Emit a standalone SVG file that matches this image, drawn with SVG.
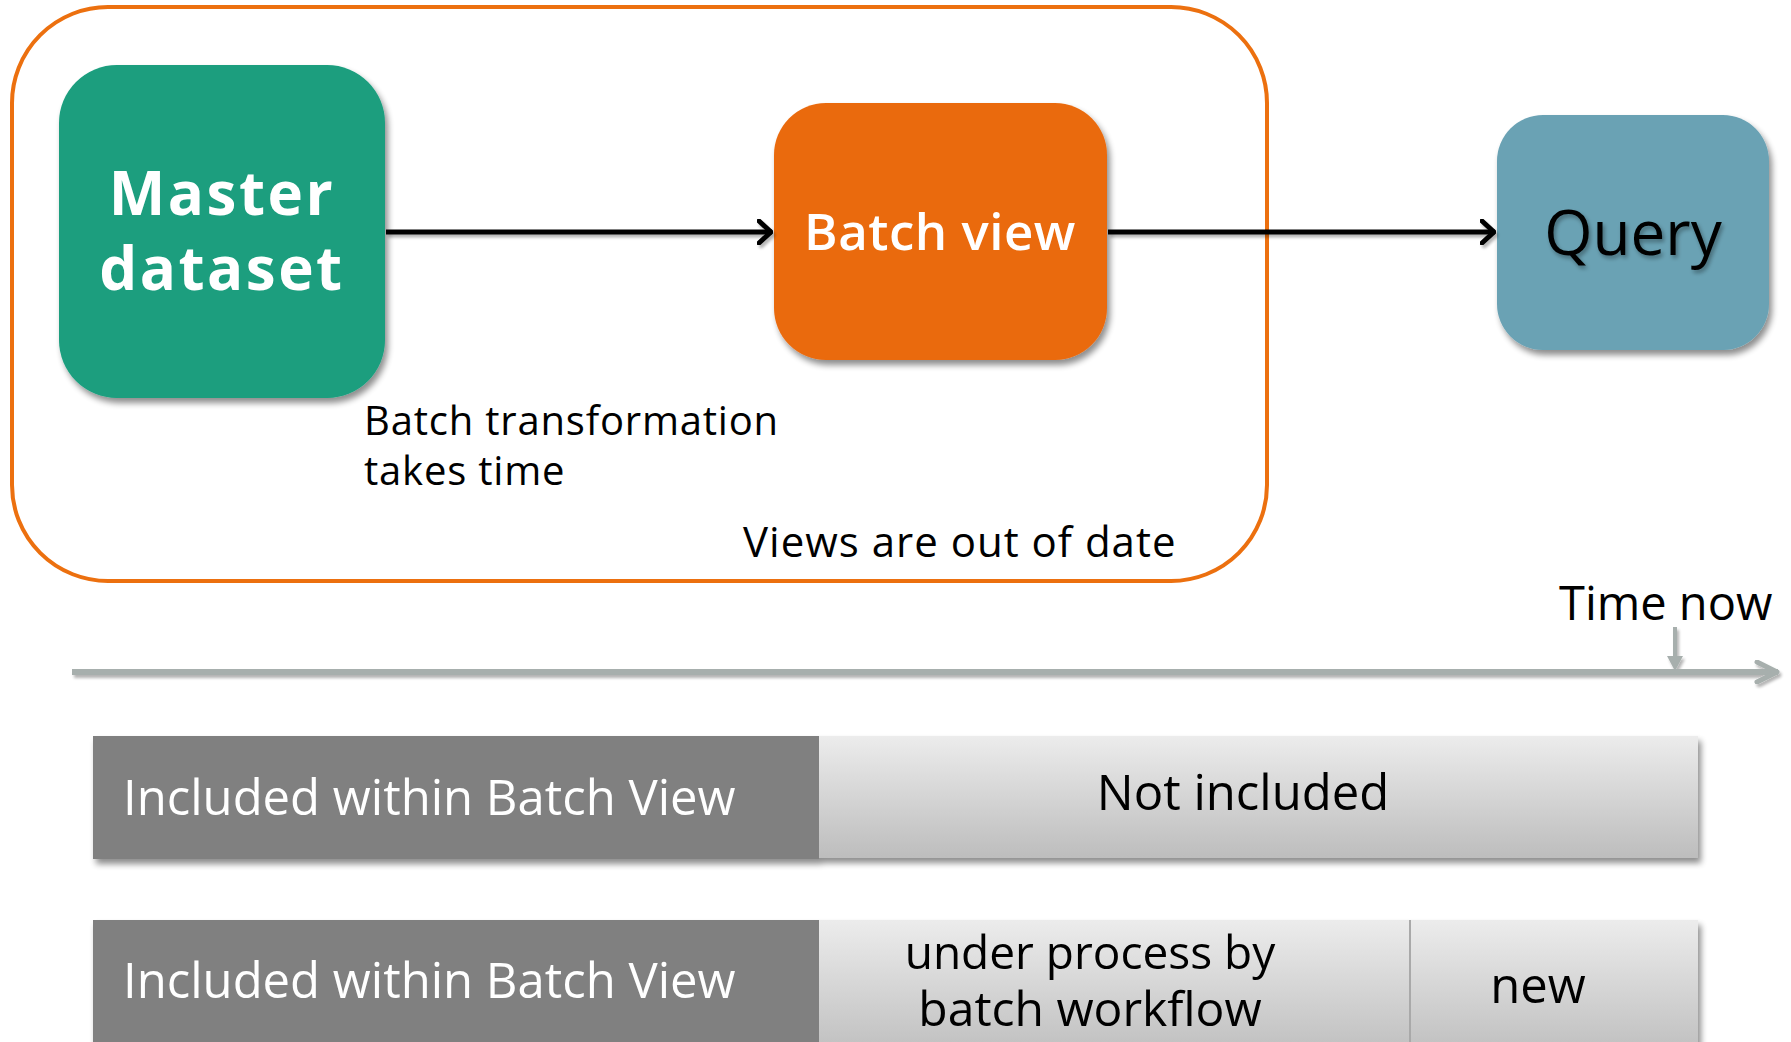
<svg xmlns="http://www.w3.org/2000/svg" width="1791" height="1042" viewBox="0 0 1791 1042">
  <defs>
    <filter id="shadow" x="-10%" y="-10%" width="130%" height="130%">
      <feGaussianBlur in="SourceAlpha" stdDeviation="3"/>
      <feOffset dx="3" dy="5" result="b"/>
      <feComponentTransfer><feFuncA type="linear" slope="0.45"/></feComponentTransfer>
      <feMerge><feMergeNode/><feMergeNode in="SourceGraphic"/></feMerge>
    </filter>
    <filter id="lineShadow" filterUnits="userSpaceOnUse" x="0" y="0" width="1791" height="1042">
      <feGaussianBlur in="SourceAlpha" stdDeviation="1.5"/>
      <feOffset dx="2" dy="3"/>
      <feComponentTransfer><feFuncA type="linear" slope="0.3"/></feComponentTransfer>
      <feMerge><feMergeNode/><feMergeNode in="SourceGraphic"/></feMerge>
    </filter>
    <filter id="textShadow" x="-10%" y="-20%" width="130%" height="150%">
      <feGaussianBlur in="SourceAlpha" stdDeviation="2"/>
      <feOffset dx="2" dy="3"/>
      <feComponentTransfer><feFuncA type="linear" slope="0.35"/></feComponentTransfer>
      <feMerge><feMergeNode/><feMergeNode in="SourceGraphic"/></feMerge>
    </filter>
    <linearGradient id="lightBar" x1="0" y1="0" x2="0" y2="1">
      <stop offset="0" stop-color="#ECECEC"/>
      <stop offset="1" stop-color="#BDBDBD"/>
    </linearGradient>
    <marker id="chevron" viewBox="0 0 16 26" refX="15" refY="13" markerWidth="16" markerHeight="26" markerUnits="userSpaceOnUse" orient="auto">
      <path d="M2 2 L14 13 L2 24" fill="none" stroke="#000" stroke-width="5" stroke-linecap="round" stroke-linejoin="round"/>
    </marker>
    <marker id="greyChevron" viewBox="0 0 26 24" refX="24" refY="12" markerWidth="26" markerHeight="24" markerUnits="userSpaceOnUse" orient="auto">
      <path d="M3 2 L23 12 L3 22" fill="none" stroke="#A7AFAD" stroke-width="5" stroke-linecap="round" stroke-linejoin="round"/>
    </marker>
  </defs>
  <style>
    text { font-family: "Open Sans", "Noto Sans", "Liberation Sans", sans-serif; }
    .node-label { font-weight: 600; fill: #fff; text-anchor: middle; }
    .note { font-size: 40px; letter-spacing: 0.8px; fill: #000; }
    .bar-dark { fill: #808080; }
    .bar-light { fill: url(#lightBar); }
    .bar-text-dark { font-size: 49px; fill: #fff; }
    .bar-text-light { font-size: 49px; fill: #000; text-anchor: middle; }
    .connector { stroke: #000; stroke-width: 5; fill: none; }
  </style>

  <!-- batch layer frame -->
  <g id="batch-layer">
    <rect x="12" y="7" width="1255" height="574" rx="96" ry="96" fill="none" stroke="#EC700F" stroke-width="4"/>
    <text class="note" x="364" y="435">Batch transformation</text>
    <text class="note" x="364" y="485">takes time</text>
    <text class="note" x="743" y="557" style="font-size:42px;letter-spacing:1px">Views are out of date</text>
  </g>

  <!-- nodes -->
  <g id="master-dataset" filter="url(#shadow)">
    <rect x="59" y="65" width="326" height="333" rx="58" ry="58" fill="#1A9E7E"/>
    <text class="node-label" x="222" y="215" font-size="60" style="font-weight:700;letter-spacing:2.5px">Master</text>
    <text class="node-label" x="222" y="290" font-size="60" style="font-weight:700;letter-spacing:2.5px">dataset</text>
  </g>

  <g id="batch-view" filter="url(#shadow)">
    <rect x="774" y="103" width="333" height="257" rx="52" ry="52" fill="#EA6A0C"/>
    <text class="node-label" x="940" y="250" font-size="51" style="letter-spacing:0.5px">Batch view</text>
  </g>

  <g id="query" filter="url(#shadow)">
    <rect x="1497" y="115" width="272" height="235" rx="46" ry="46" fill="#6AA2B4"/>
    <text x="1633" y="255" font-size="62" fill="#000" text-anchor="middle" filter="url(#textShadow)">Query</text>
  </g>

  <!-- connectors -->
  <g id="connectors" filter="url(#lineShadow)">
    <line class="connector" x1="386" y1="232" x2="772" y2="232" marker-end="url(#chevron)"/>
    <line class="connector" x1="1108" y1="232" x2="1495" y2="232" marker-end="url(#chevron)"/>
  </g>

  <!-- time axis -->
  <g id="timeline" filter="url(#lineShadow)">
    <line x1="72" y1="672" x2="1778" y2="672" stroke="#A7AFAD" stroke-width="6" marker-end="url(#greyChevron)"/>
    <line x1="1675" y1="627" x2="1675" y2="660" stroke="#A7AFAD" stroke-width="4"/>
    <path d="M1667 656 L1683 656 L1675 671 Z" fill="#A7AFAD"/>
  </g>
  <text x="1559" y="620" font-size="47" fill="#000">Time now</text>

  <!-- state bar before batch run -->
  <g id="bar-current" filter="url(#shadow)">
    <rect class="bar-dark" x="93" y="736" width="726" height="123"/>
    <rect class="bar-light" x="819" y="736" width="879" height="122"/>
    <text class="bar-text-dark" x="123" y="815">Included within Batch View</text>
    <text class="bar-text-light" x="1243" y="810">Not included</text>
  </g>

  <!-- state bar during batch run -->
  <g id="bar-processing" filter="url(#shadow)">
    <rect class="bar-dark" x="93" y="920" width="726" height="140"/>
    <rect class="bar-light" x="819" y="920" width="591" height="140"/>
    <rect class="bar-light" x="1410" y="920" width="288" height="140"/>
    <line x1="1410" y1="920" x2="1410" y2="1060" stroke="#A9A9A9" stroke-width="2"/>
    <text class="bar-text-dark" x="123" y="998">Included within Batch View</text>
    <text class="bar-text-light" x="1090" y="969" style="font-size:46px">under process by</text>
    <text class="bar-text-light" x="1090" y="1026" style="font-size:48px">batch workflow</text>
    <text class="bar-text-light" x="1538" y="1003">new</text>
  </g>
</svg>
